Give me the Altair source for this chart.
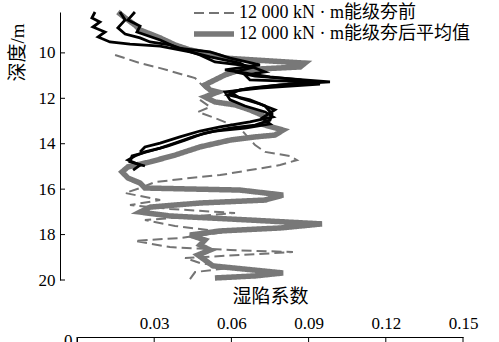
import altair as alt
import pandas as pd

FONT = "Liberation Serif, Noto Sans CJK SC"
PRE = "12 000 kN · m能级夯前"
AVG = "12 000 kN · m能级夯后平均值"

# ---- data (coefficient, depth m) ----
avg_v = [0.0159, 0.0187, 0.0225, 0.0245, 0.0323, 0.0381, 0.0439, 0.0536, 0.0575, 0.0886,
         0.0867, 0.0633, 0.0575, 0.0536, 0.0497, 0.0517, 0.0548, 0.0497, 0.0536, 0.0614,
         0.0672, 0.0719, 0.0742, 0.0731, 0.0801, 0.0769, 0.0692, 0.0595, 0.0478, 0.0381,
         0.0284, 0.0198, 0.0175, 0.0198, 0.0245, 0.0264, 0.0633, 0.0801, 0.0731, 0.0478,
         0.0284, 0.0245, 0.0361, 0.0672, 0.0952, 0.0789, 0.0556, 0.0439, 0.0497, 0.0478,
         0.0517, 0.0470, 0.0497, 0.0528, 0.0801, 0.0692, 0.0536]
avg_d = [8.20, 8.46, 8.77, 8.99, 9.34, 9.65, 9.87, 10.09, 10.23, 10.45,
         10.62, 10.75, 10.97, 11.19, 11.41, 11.63, 11.72, 11.94, 12.16, 12.29,
         12.51, 12.74, 12.96, 13.18, 13.40, 13.62, 13.70, 13.84, 14.14, 14.50,
         14.80, 15.02, 15.24, 15.51, 15.73, 15.95, 16.04, 16.26, 16.48, 16.61,
         16.79, 17.01, 17.18, 17.36, 17.53, 17.71, 17.84, 18.02, 18.24, 18.46,
         18.68, 18.90, 19.12, 19.38, 19.69, 19.82, 19.91]

pre_v = [0.0148, 0.0245, 0.0323, 0.0459, 0.0497, 0.0525, 0.0478, 0.0517, 0.0470, 0.0536,
         0.0633, 0.0692, 0.0731, 0.0828, 0.0855, 0.0789, 0.0672, 0.0556, 0.0439, 0.0303,
         0.0245, 0.0187, 0.0323, 0.0206, 0.0361, 0.0614, 0.0478, 0.0264, 0.0381, 0.0575,
         0.0400, 0.0225, 0.0361, 0.0595, 0.0839, 0.0633, 0.0420, 0.0478, 0.0595, 0.0459,
         0.0439]
pre_d = [10.09, 10.45, 10.67, 11.11, 11.55, 11.77, 12.07, 12.38, 12.60, 12.87,
         13.31, 14.06, 14.36, 14.54, 14.72, 14.94, 15.16, 15.38, 15.51, 15.69,
         15.95, 16.17, 16.48, 16.70, 16.87, 17.05, 17.18, 17.36, 17.62, 17.89,
         18.15, 18.28, 18.55, 18.68, 18.77, 18.90, 19.03, 19.25, 19.47, 19.65,
         19.96]

b1_v = [0.0070, 0.0058, 0.0089, 0.0062, 0.0109, 0.0082, 0.0128, 0.0206, 0.0323, 0.0439,
        0.0517, 0.0633, 0.0672, 0.0614, 0.0692, 0.0983, 0.0789, 0.0672, 0.0595, 0.0633,
        0.0711, 0.0769, 0.0719, 0.0750, 0.0653, 0.0536, 0.0459, 0.0381, 0.0323, 0.0264,
        0.0225, 0.0198, 0.0245, 0.0218]
b1_d = [8.20, 8.46, 8.64, 8.86, 9.08, 9.30, 9.52, 9.61, 9.70, 9.96,
        10.18, 10.45, 10.67, 10.84, 11.02, 11.28, 11.41, 11.55, 11.72, 11.99,
        12.25, 12.51, 12.87, 13.13, 13.31, 13.44, 13.66, 13.97, 14.19, 14.36,
        14.54, 14.72, 14.94, 15.16]

b2_v = [0.0167, 0.0187, 0.0159, 0.0187, 0.0245, 0.0284, 0.0361, 0.0420, 0.0478, 0.0536,
        0.0672, 0.0731, 0.0653, 0.0672, 0.0905, 0.0750, 0.0633, 0.0587, 0.0672, 0.0731,
        0.0758, 0.0750, 0.0692, 0.0595, 0.0497, 0.0420, 0.0354, 0.0284, 0.0214, 0.0206,
        0.0264]
b2_d = [8.20, 8.55, 8.90, 9.17, 9.34, 9.52, 9.65, 9.87, 10.09, 10.40,
        10.58, 10.84, 10.97, 11.19, 11.28, 11.46, 11.63, 11.85, 12.07, 12.34,
        12.69, 12.96, 13.18, 13.31, 13.53, 13.84, 14.10, 14.32, 14.54, 14.80,
        14.98]

b3_v = [0.0225, 0.0198, 0.0245, 0.0233, 0.0323, 0.0392, 0.0517, 0.0595, 0.0711, 0.0575,
        0.0750, 0.0867, 0.0944, 0.0711, 0.0575, 0.0595, 0.0653, 0.0731, 0.0762, 0.0672,
        0.0556, 0.0478, 0.0400, 0.0323, 0.0264, 0.0245]
b3_d = [8.20, 8.55, 8.82, 9.08, 9.43, 9.79, 9.96, 10.23, 10.53, 10.75,
        11.06, 11.19, 11.37, 11.55, 11.72, 12.07, 12.34, 12.60, 12.82, 13.04,
        13.26, 13.44, 13.70, 13.97, 14.14, 14.36]

depth_ticks = [10, 12, 14, 16, 18, 20]
coef_ticks = [0, 0.03, 0.06, 0.09, 0.12, 0.15]

# ---- tables ----
series_df = pd.concat([
    pd.DataFrame({"v": pre_v, "d": pre_d, "series": PRE, "i": range(len(pre_v))}),
    pd.DataFrame({"v": avg_v, "d": avg_d, "series": AVG, "i": range(len(avg_v))}),
], ignore_index=True)

black_df = pd.concat([
    pd.DataFrame({"v": bv, "d": bd, "profile": k, "i": range(len(bv))})
    for k, (bv, bd) in enumerate([(b1_v, b1_d), (b2_v, b2_d), (b3_v, b3_d)])
], ignore_index=True)

dtick_df = pd.DataFrame({"d": depth_ticks})
ctick_df = pd.DataFrame({"v": coef_ticks, "y0": 0.0, "y1": 0.5})

# ---- scales / axes ----
x_scale = alt.Scale(domain=[0, 0.15], nice=False, zero=False)
y_scale = alt.Scale(domain=[8.2, 20], reverse=True, nice=False, zero=False)

x_axis = alt.Axis(orient="top", offset=-325, values=coef_ticks[1:], format=".2f",
                  ticks=False, grid=False, labelFlush=False, labelPadding=5,
                  labelFont=FONT, labelFontSize=17, labelColor="black",
                  domainColor="black", domainWidth=1,
                  title="湿陷系数", titleFont=FONT, titleFontSize=19,
                  titleFontWeight="normal", titleColor="black",
                  titleX=193, titleY=-41, titleAlign="center", titleBaseline="middle")

depth_axis = alt.Axis(orient="left", offset=17, values=depth_ticks, ticks=False,
                      grid=False, labelPadding=5, labelFont=FONT, labelFontSize=17,
                      labelColor="black", domainColor="black", domainWidth=1,
                      title="深度/m", titleFont=FONT, titleFontSize=19,
                      titleFontWeight="normal", titleColor="black",
                      titleX=-43, titleY=40, titleAngle=270,
                      titleAlign="center", titleBaseline="middle")

low_axis = alt.Axis(orient="left", values=[0], ticks=False, grid=False,
                    labelPadding=5, labelOffset=3, labelFont=FONT, labelFontSize=17,
                    labelColor="black", domainColor="black", domainWidth=1, title=None)

legend = alt.Legend(orient="none", legendX=114, legendY=-8, title=None,
                    symbolType="stroke", symbolSize=1600, clipHeight=18,
                    labelFont=FONT, labelFontSize=18, labelColor="black", labelOffset=2,
                    rowPadding=3, padding=0, labelLimit=500)

dom = [PRE, AVG]

series_layer = alt.Chart(series_df).mark_line().encode(
    x=alt.X("v:Q", scale=x_scale, axis=x_axis),
    y=alt.Y("d:Q", scale=y_scale, axis=depth_axis),
    color=alt.Color("series:N", scale=alt.Scale(domain=dom, range=["#747474", "#787878"]), legend=legend),
    strokeDash=alt.StrokeDash("series:N", scale=alt.Scale(domain=dom, range=[[10, 5], [1, 0]]), legend=legend),
    strokeWidth=alt.StrokeWidth("series:N", scale=alt.Scale(type="ordinal", domain=dom, range=[2, 5.5]), legend=legend),
    order="i:Q",
)

black_layer = alt.Chart(black_df).mark_line(color="black", strokeWidth=2.8).encode(
    x=alt.X("v:Q", scale=x_scale, axis=x_axis),
    y=alt.Y("d:Q", scale=y_scale, axis=None),
    detail="profile:N",
    order="i:Q",
)

dtick_layer = alt.Chart(dtick_df).mark_rule(color="black", strokeWidth=1).encode(
    y=alt.Y("d:Q", scale=y_scale, axis=None),
    x=alt.value(-17),
    x2=alt.value(-12),
)

ctick_layer = alt.Chart(ctick_df).mark_rule(color="black", strokeWidth=1).encode(
    x=alt.X("v:Q", scale=x_scale, axis=x_axis),
    y=alt.Y("y0:Q", scale=alt.Scale(domain=[0, 1], range=[325, 345], nice=False, zero=False), axis=low_axis),
    y2="y1:Q",
)

chart = alt.layer(series_layer, black_layer, dtick_layer, ctick_layer).resolve_scale(
    y="independent"
).properties(
    width=386, height=268,
    padding={"left": 77, "top": 12, "right": 36, "bottom": 62},
    autosize=alt.AutoSizeParams(type="none"),
).configure_view(stroke=None)

chart.save("out.html", embed_options={"renderer": "svg", "actions": False})
